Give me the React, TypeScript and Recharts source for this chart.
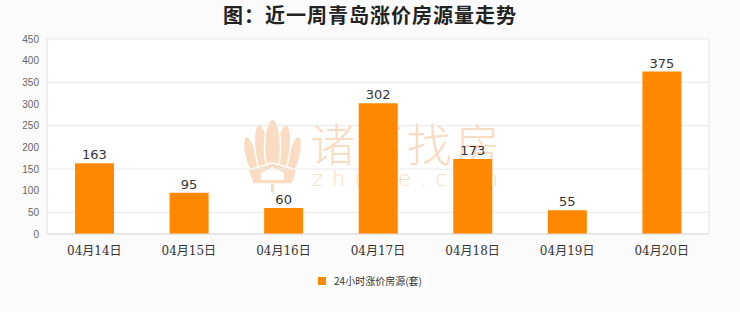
import React from "react";
import {
  BarChart,
  Bar,
  XAxis,
  YAxis,
  CartesianGrid,
  Legend,
  LabelList,
} from "recharts";

// 日期
const days = ["04月14日", "04月15日", "04月16日", "04月17日", "04月18日", "04月19日", "04月20日"];
// 24小时涨价房源(套)
const riseCounts = [163, 95, 60, 302, 173, 55, 375];
const yTicks = [0, 50, 100, 150, 200, 250, 300, 350, 400, 450];

const seriesName = "24小时涨价房源(套)";
const barColor = "#FF8800";

const data = days.map((d, i) => ({ day: d, count: riseCounts[i] }));

const W = 740;
const H = 312;

// 水印（在柱子下面）
function Watermark() {
  const c = "#f9dcc1";
  return (
    <svg width={W} height={H} style={{ position: "absolute", left: 0, top: 0 }}>
      <rect x={47} y={39} width={662} height={195} fill="#ffffff" />
      <g transform="translate(243,118)" fill={c} stroke="#ffffff" strokeWidth={1.5}>
        <ellipse cx={8} cy={38} rx={6} ry={20} transform="rotate(-14 8 38)" />
        <ellipse cx={51} cy={38} rx={6} ry={20} transform="rotate(14 51 38)" />
        <ellipse cx={19} cy={32} rx={7} ry={26} transform="rotate(-7 19 32)" />
        <ellipse cx={40} cy={32} rx={7} ry={26} transform="rotate(7 40 32)" />
        <ellipse cx={29.5} cy={29} rx={8} ry={28} />
        <path d="M5 52 L29.5 45 L54 52 L49 66 L10 66 Z" />
        <path d="M18 62 L18 55 L29.5 49 L41 55 L41 62 Z" fill="#ffffff" stroke="none" />
        <rect x={28} y={66} width={3} height={8} stroke="none" />
      </g>
      <text
        x={310}
        y={162}
        fontSize={45}
        fontWeight={300}
        fill={c}
        fontFamily="'Noto Sans CJK SC', sans-serif"
        textLength={190}
        lengthAdjust="spacing"
      >
        诸葛找房
      </text>
      <text
        x={312}
        y={186}
        fontSize={21}
        fontWeight={300}
        fill={c}
        fontFamily="'DejaVu Sans', sans-serif"
        textLength={186}
        lengthAdjust="spacing"
      >
        zhuge.com
      </text>
    </svg>
  );
}

function LegendBox() {
  return (
    <div style={{ height: 54, display: "flex", justifyContent: "center", alignItems: "flex-start" }}>
      <div
        style={{
          marginTop: 15,
          background: "#ffffff",
          padding: "2px 6px",
          display: "flex",
          alignItems: "center",
          fontSize: 10,
          color: "#333",
          fontFamily: "'Noto Sans CJK SC', sans-serif",
          lineHeight: "12px",
        }}
      >
        <span style={{ width: 8, height: 8, background: barColor, marginRight: 8, display: "inline-block" }} />
        {seriesName}
      </div>
    </div>
  );
}

export default function App() {
  return (
    <div
      style={{
        position: "absolute",
        left: 0,
        top: 0,
        width: W,
        height: H,
        background: "#fbfbfb",
        overflow: "hidden",
      }}
    >
      <Watermark />
      <div
        style={{
          position: "absolute",
          left: 0,
          top: 2,
          width: W,
          textAlign: "center",
          fontSize: 20,
          fontWeight: 600,
          letterSpacing: 1,
          color: "#222",
          fontFamily: "'Noto Sans CJK SC', sans-serif",
          lineHeight: "26px",
        }}
      >
        图：近一周青岛涨价房源量走势
      </div>
      <div style={{ position: "absolute", left: 0, top: 0 }}>
        <BarChart width={W} height={H} data={data} margin={{ top: 39, right: 0, left: 0, bottom: 0 }}>
          <CartesianGrid vertical={false} stroke="#e8e8e8" yAxisId="l" />
          <XAxis
            dataKey="day"
            height={24}
            tickLine={false}
            axisLine={{ stroke: "#dddddd" }}
            tickMargin={6}
            tick={{ fontSize: 12, fill: "#333", fontFamily: "'DejaVu Serif', 'Noto Sans CJK SC', serif" }}
          />
          <YAxis
            yAxisId="l"
            width={47}
            domain={[0, 450]}
            ticks={yTicks}
            tickLine={false}
            axisLine={{ stroke: "#e0e0e0" }}
            tick={{ fontSize: 10, fill: "#666", fontFamily: "'Liberation Sans', sans-serif" }}
          />
          <YAxis
            yAxisId="r"
            orientation="right"
            width={31}
            domain={[0, 450]}
            tick={false}
            tickLine={false}
            axisLine={{ stroke: "#e6e6e6" }}
          />
          <Legend verticalAlign="bottom" content={() => <LegendBox />} />
          <Bar
            yAxisId="l"
            dataKey="count"
            name={seriesName}
            fill={barColor}
            barSize={39}
            isAnimationActive={false}
          >
            <LabelList
              dataKey="count"
              position="top"
              offset={4}
              fill="#333"
              fontSize={13}
              fontFamily="'DejaVu Sans', sans-serif"
            />
          </Bar>
        </BarChart>
      </div>
    </div>
  );
}
